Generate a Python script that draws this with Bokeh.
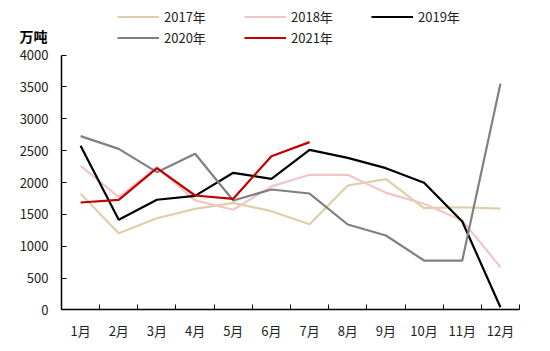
from bokeh.plotting import figure
from bokeh.models import FixedTicker, Legend, LegendItem, Label, Range1d
from bokeh.embed import file_html
from bokeh.resources import INLINE

months = ["1月", "2月", "3月", "4月", "5月", "6月", "7月", "8月", "9月", "10月", "11月", "12月"]
y2017 = [1823, 1205, 1440, 1587, 1681, 1550, 1346, 1953, 2052, 1597, 1612, 1590]
y2018 = [2262, 1770, 2240, 1720, 1572, 1940, 2121, 2121, 1838, 1666, 1404, 672]
y2019 = [2575, 1415, 1729, 1791, 2152, 2058, 2513, 2387, 2225, 1995, 1388, 44]
y2020 = [2727, 2528, 2162, 2450, 1718, 1890, 1827, 1341, 1169, 776, 776, 3548]
y2021 = [1686, 1729, 2225, 1796, 1744, 2412, 2633]
series = [("2017年", y2017, "#DDD0A8"), ("2018年", y2018, "#F2C6C8"),
          ("2019年", y2019, "#000000"), ("2020年", y2020, "#808080"),
          ("2021年", y2021, "#C00000")]

FONT = "Noto Sans CJK SC"

# frame spans the whole page; both axes are pinned at 0 and bounded
p = figure(width=550, height=351, output_backend="svg", toolbar_location=None,
           x_range=Range1d(-1.598, 12.812), y_range=Range1d(-651, 4855),
           min_border_left=0, min_border_right=0, min_border_top=0, min_border_bottom=0)
p.outline_line_color = None
p.grid.visible = False

items = []
for name, vals, col in series:
    xs = [i + 0.5 for i in range(len(vals))]
    r = p.line(xs, vals, line_color=col, line_width=2.2)
    items.append(LegendItem(label=name, renderers=[r]))

p.xaxis.ticker = FixedTicker(ticks=[i + 0.5 for i in range(12)], minor_ticks=list(range(13)))
p.xaxis.major_label_overrides = {i + 0.5: m for i, m in enumerate(months)}
p.xaxis.bounds = (0, 12)
p.xaxis.fixed_location = 0
p.xaxis.major_tick_in = 0
p.xaxis.major_tick_out = 0
p.xaxis.minor_tick_in = 5
p.xaxis.minor_tick_out = 0
p.xaxis.major_label_standoff = 11

p.yaxis.ticker = FixedTicker(ticks=list(range(0, 4001, 500)))
p.yaxis.bounds = (0, 4000)
p.yaxis.fixed_location = 0
p.yaxis.major_tick_in = 5
p.yaxis.major_tick_out = 0
p.yaxis.major_label_standoff = 13

for ax in (p.xaxis, p.yaxis):
    ax.axis_line_color = "#000000"
    ax.axis_line_width = 1.5
    ax.major_tick_line_color = "#000000"
    ax.major_label_text_font = FONT
    ax.major_label_text_font_size = "13px"
    ax.major_label_text_color = "#222222"
p.xaxis.minor_tick_line_color = "#000000"
p.yaxis.minor_tick_line_color = None

legend = Legend(items=items, orientation="horizontal", ncols=3,
                location=(117, 303), glyph_width=42, glyph_height=21, label_height=21,
                label_width=80, label_standoff=5, spacing=0, padding=0, margin=0,
                label_text_font=FONT, label_text_font_size="13px",
                label_text_color="#222222",
                border_line_color=None, background_fill_alpha=0)
p.add_layout(legend, "center")

lab = Label(x=19, y=306, x_units="screen", y_units="screen", text="万吨",
            text_font=FONT, text_font_size="14px", text_font_style="bold",
            text_color="#000000")
p.add_layout(lab)

open("out.html", "w").write(file_html(p, INLINE))
